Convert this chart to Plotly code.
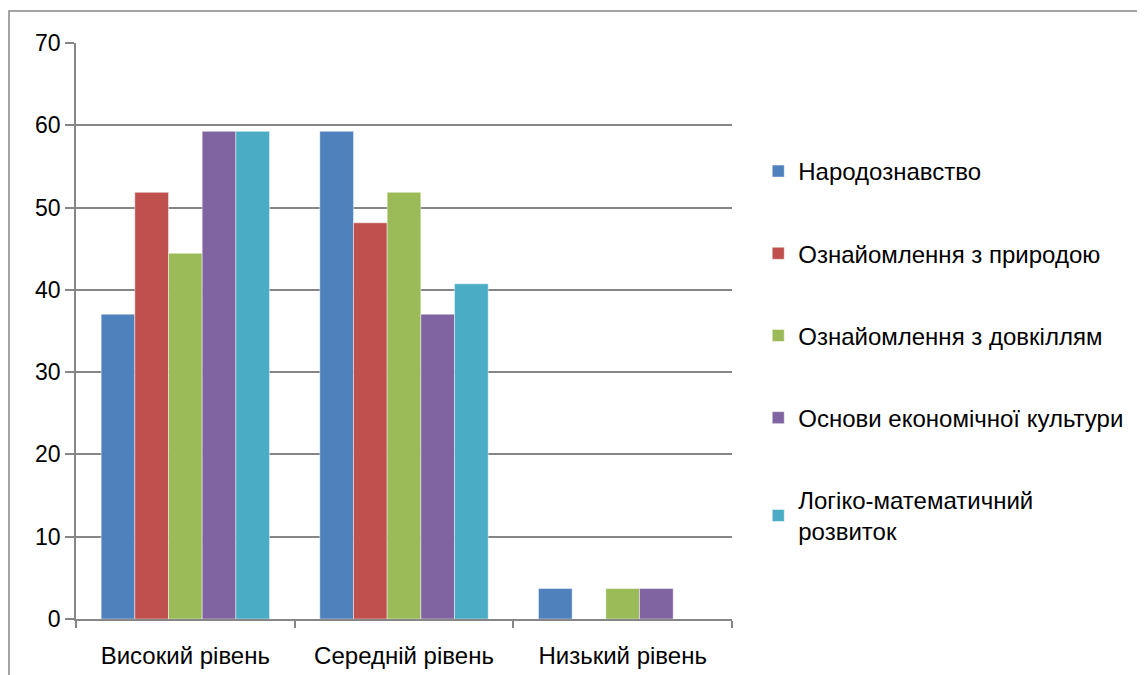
import plotly.graph_objects as go

categories = ["Високий рівень", "Середній рівень", "Низький рівень"]
series_names = [
    "Народознавство",
    "Ознайомлення з природою",
    "Ознайомлення з довкіллям",
    "Основи економічної культури",
    "Логіко-математичний<br>розвиток",
]
narodoznavstvo = [37.04, 59.26, 3.7]
pryroda = [51.85, 48.15, 0]
dovkillia = [44.44, 51.85, 3.7]
ekonomika = [59.26, 37.04, 3.7]
logika = [59.26, 40.74, 0]
colors = ["#4F81BD", "#C0504D", "#9BBB59", "#8064A2", "#4BACC6"]
y_ticks = [0, 10, 20, 30, 40, 50, 60, 70]

series_values = [narodoznavstvo, pryroda, dovkillia, ekonomika, logika]

FONT = "Liberation Sans"
fig = go.Figure()
for i, (name, vals, col) in enumerate(zip(series_names, series_values, colors)):
    fig.add_trace(go.Bar(
        x=categories, y=vals, name=name, legendgroup=str(i),
        marker=dict(color=col, line=dict(color="rgba(255,255,255,0.45)", width=1)),
    ))

fig.update_layout(
    width=1145, height=675,
    margin=dict(l=68, r=421, t=35, b=64),
    paper_bgcolor="white", plot_bgcolor="white",
    barmode="group", bargap=0.23, bargroupgap=0,
    font=dict(family=FONT, size=24, color="#000000"),
    showlegend=True,
    legend=dict(
        x=1.04, xanchor="left", y=0.816, yanchor="top",
        font=dict(family=FONT, size=24, color="#000000"),
        tracegroupgap=48, traceorder="grouped",
        bgcolor="rgba(0,0,0,0)",
    ),
    xaxis=dict(
        type="category", showline=True, linecolor="#868686", linewidth=1.5,
        ticks="outside", tickson="boundaries", ticklen=7, tickcolor="#868686",
        tickwidth=1.5, showgrid=False, tickfont=dict(family=FONT, size=24),
        ticklabelstandoff=14,
    ),
    yaxis=dict(
        range=[0, 70], tickvals=y_ticks, showline=True, linecolor="#868686",
        linewidth=1.5, ticks="outside", ticklen=9, tickcolor="#868686",
        tickwidth=1.5, showgrid=True, gridcolor="#868686", gridwidth=1.5,
        zeroline=False, tickfont=dict(family=FONT, size=23),
    ),
    shapes=[dict(
        type="rect", xref="paper", yref="paper",
        x0=(9 - 76) / 656, x1=(1160 - 76) / 656,
        y0=-0.2, y1=1 + (43 - 11) / 576,
        line=dict(color="#868686", width=1.5), fillcolor="rgba(0,0,0,0)",
        layer="below",
    )],
)

fig.write_html("out.html")
